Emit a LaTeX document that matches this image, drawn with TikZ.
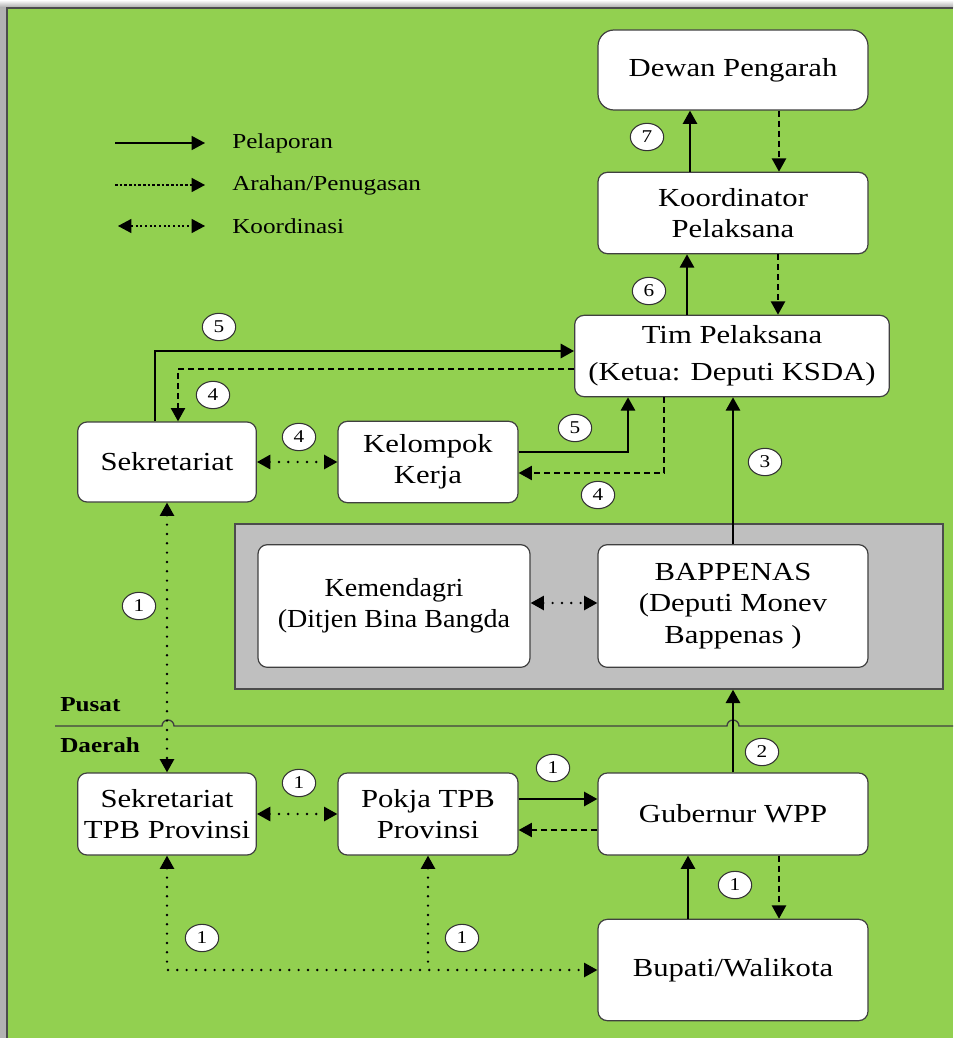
\documentclass[tikz,border=0pt]{standalone}
\usepackage{fontspec}
\setmainfont{Liberation Serif}[FakeStretch=1.18]
\usetikzlibrary{arrows.meta,shapes.geometric}
\definecolor{daun}{HTML}{92D050}
\definecolor{abu}{HTML}{BFBFBF}
\tikzset{
  panah/.tip={Triangle[length=10pt,width=10.5pt]},
  kotak/.style={draw=black!75, line width=0.9pt, fill=white, rounded corners=7pt,
    align=center, inner sep=2pt, font=\fontsize{19.5}{23.5}\selectfont},
  panel/.style={draw=black!70, line width=1pt, fill=abu},
  num/.style={ellipse, draw=black!80, line width=0.8pt, fill=white, inner sep=0pt,
    minimum width=25pt, minimum height=20.5pt, font=\fontsize{13.5}{13.5}\selectfont},
  ket/.style={anchor=west, inner sep=0pt, font=\fontsize{16}{18}\selectfont},
  wilayah/.style={anchor=west, inner sep=0pt, font=\fontsize{16}{17}\selectfont\bfseries},
  lapor/.style={line width=2.1pt, -panah},
  arah/.style={line width=1.8pt, dash pattern=on 4.5pt off 3pt, -panah},
  koordinasi/.style={line width=2pt, line cap=round, dash pattern=on 0pt off 7pt, panah-panah}
}
\begin{document}
\begin{tikzpicture}[x=0.75pt, y=-0.75pt]
  \useasboundingbox (0,0) rectangle (953,1038);
  % latar
  \shade[top color=white, bottom color=black!35] (0,0) rectangle (953,8);
  \fill[black!30] (0,8) rectangle (7,1038);
  \fill[daun] (7,8) rectangle (953,1038);
  \draw[black!70, line width=1pt] (7,1038) -- (7,8) -- (953,8);

  % legenda
  \coordinate (lapora) at (115,143);
  \coordinate (laporb) at (205,143);
  \coordinate (araha) at (115,185);
  \coordinate (arahb) at (205,185);
  \coordinate (koora) at (118,226);
  \coordinate (koorb) at (205,226);
  \node[ket] (tlapor) at (232,143) {Pelaporan};
  \node[ket] (tarah) at (232,185) {Arahan/Penugasan};
  \node[ket] (tkoor) at (232,226) {Koordinasi};
  \draw[lapor, line width=1.1pt] (lapora) -- (laporb);
  \draw[arah, line width=0.9pt, dash pattern=on 2pt off 1.5pt] (araha) -- (arahb);
  \draw[koordinasi, line width=0.8pt, line cap=butt, dash pattern=on 1.5pt off 2pt] (koora) -- (koorb);

  % garis pusat / daerah
  \draw[black!75, line width=1pt] (55,726) -- (162,726)
    arc[start angle=180, end angle=360, radius=6] -- (727,726)
    arc[start angle=180, end angle=360, radius=6] -- (953,726);
  \node[wilayah] (pusat) at (60,705) {Pusat};
  \node[wilayah] (daerah) at (60,745) {Daerah};

  % kotak
  \node[kotak, rounded corners=12pt, minimum width=202.5pt, minimum height=60pt] (dewan) at (733,70) {Dewan Pengarah};
  \node[kotak, minimum width=202.5pt, minimum height=61pt] (koordinator) at (733,213) {Koordinator\\Pelaksana};
  \node[kotak, minimum width=236pt, minimum height=61pt, font=\fontsize{19.5}{27.5}\selectfont] (tim) at (732,356) {Tim Pelaksana\\(Ketua: Deputi KSDA)};
  \node[kotak, minimum width=134pt, minimum height=60pt] (sekret) at (167,462) {Sekretariat};
  \node[kotak, minimum width=135pt, minimum height=61pt] (pokjakerja) at (428,462) {Kelompok\\Kerja};
  \node[panel, minimum width=531pt, minimum height=123.75pt] (pusatbox) at (589,606.5) {};
  \node[kotak, minimum width=204pt, minimum height=92pt] (kemendagri) at (394,606) {\addfontfeature{FakeStretch=1.08}Kemendagri\\\addfontfeature{FakeStretch=1.08}(Ditjen Bina Bangda};
  \node[kotak, minimum width=202.5pt, minimum height=92pt] (bappenas) at (733,606) {BAPPENAS\\(Deputi Monev\\Bappenas )};
  \node[kotak, minimum width=134pt, minimum height=61.5pt] (sekprov) at (167,814) {Sekretariat\\TPB Provinsi};
  \node[kotak, minimum width=135pt, minimum height=61.5pt] (pokjaprov) at (428,814) {Pokja TPB\\Provinsi};
  \node[kotak, minimum width=202.5pt, minimum height=61.5pt] (gubernur) at (733,814) {Gubernur WPP};
  \node[kotak, minimum width=202.5pt, minimum height=76pt] (bupati) at (733,970) {Bupati/Walikota};

  % penghubung
  \begin{scope}
    \draw[lapor] (690,0 |- koordinator.north) -- (690,0 |- dewan.south);
    \draw[arah] (779,0 |- dewan.south) -- (779,0 |- koordinator.north);
    \draw[lapor] (687,0 |- tim.north) -- (687,0 |- koordinator.south);
    \draw[arah] (778,0 |- koordinator.south) -- (778,0 |- tim.north);
    \draw[lapor] (155,0 |- sekret.north) |- (tim.west |- 0,351);
    \draw[arah] (tim.west |- 0,369) -| (178,0 |- sekret.north);
    \draw[koordinasi] (sekret.east) -- (pokjakerja.west);
    \draw[lapor] (pokjakerja.east |- 0,452) -| (628,0 |- tim.south);
    \draw[arah] (664,0 |- tim.south) |- (pokjakerja.east |- 0,473);
    \draw[lapor] (bappenas.north) -- (bappenas.north |- tim.south);
    \draw[koordinasi] (kemendagri.east |- 0,603) -- (bappenas.west |- 0,603);
    \draw[lapor] (gubernur.north) -- (gubernur.north |- pusatbox.south);
    \draw[koordinasi] (sekret.south) -- (sekprov.north);
    \draw[koordinasi] (sekprov.east) -- (pokjaprov.west);
    \draw[lapor] (pokjaprov.east |- 0,799) -- (gubernur.west |- 0,799);
    \draw[arah] (gubernur.west |- 0,830) -- (pokjaprov.east |- 0,830);
    \draw[lapor] (688,0 |- bupati.north) -- (688,0 |- gubernur.south);
    \draw[arah] (779,0 |- gubernur.south) -- (779,0 |- bupati.north);
    \draw[koordinasi] (sekprov.south) |- (bupati.west);
    \draw[koordinasi, panah-] (pokjaprov.south) -- (pokjaprov.south |- bupati.west);
  \end{scope}

  % nomor
  \node[num] (n7) at (647,137) {7};
  \node[num] (n6) at (649,291) {6};
  \node[num] (n5a) at (219,327) {5};
  \node[num] (n4a) at (213,395) {4};
  \node[num] (n4b) at (299,437) {4};
  \node[num] (n5b) at (575,428) {5};
  \node[num] (n4c) at (598,495) {4};
  \node[num] (n3) at (765,462) {3};
  \node[num] (n1a) at (139,606) {1};
  \node[num] (n2) at (762,752) {2};
  \node[num] (n1b) at (299,783) {1};
  \node[num] (n1c) at (553,768) {1};
  \node[num] (n1d) at (735,885) {1};
  \node[num] (n1e) at (202,938) {1};
  \node[num] (n1f) at (462,938) {1};
\end{tikzpicture}
\end{document}
